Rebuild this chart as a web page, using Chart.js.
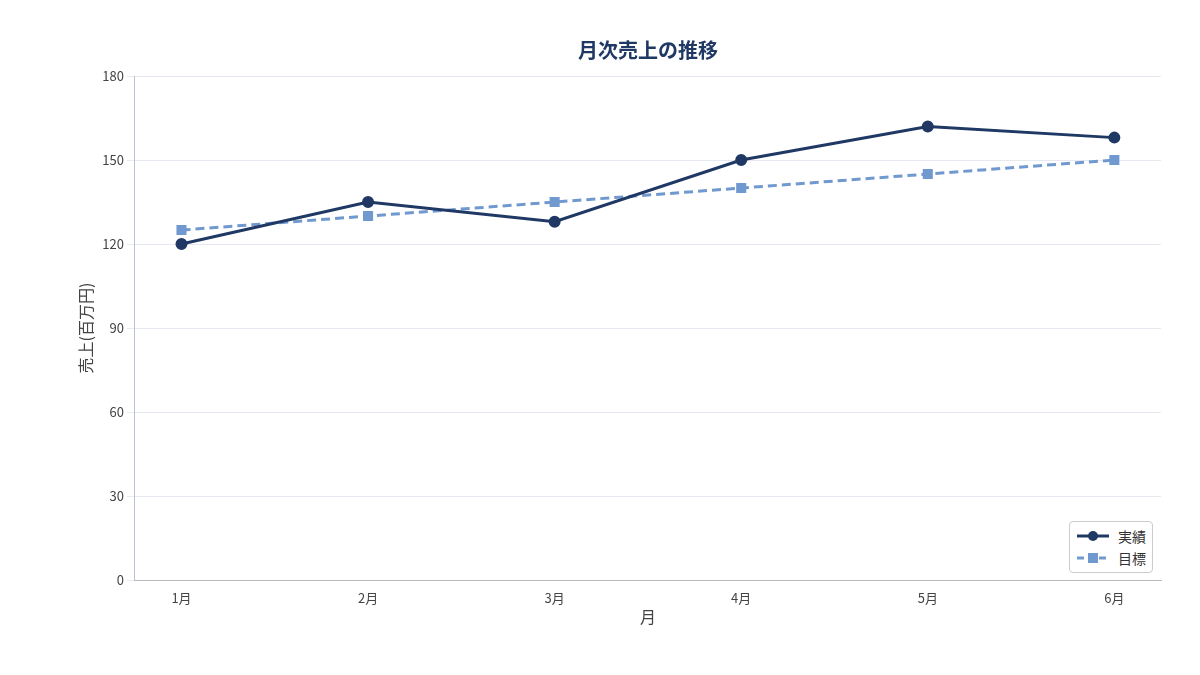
<!DOCTYPE html>
<html>
<head>
<meta charset="utf-8">
<script src="https://cdn.jsdelivr.net/npm/chart.js@4/dist/chart.umd.min.js"></script>
<style>
  body { margin: 0; background: #fff; font-family: "Noto Sans CJK JP", sans-serif; }
  #wrap { position: relative; width: 1200px; height: 675px; }
  #legend {
    position: absolute; right: 47px; top: 521px;
    border: 1px solid #ccc; border-radius: 4px; background: #fff;
    padding: 3px 6px 3px 6px; font-size: 14px; color: #333; line-height: 22px;
  }
  #legend div { display: flex; align-items: center; gap: 8px; }
</style>
</head>
<body>
<div id="wrap">
  <canvas id="c" width="1200" height="675"></canvas>
  <div id="legend">
    <div><svg width="34" height="12"><line x1="1" y1="6" x2="33" y2="6" stroke="#1f3864" stroke-width="3"/><circle cx="17" cy="6" r="5" fill="#1f3864"/></svg>実績</div>
    <div><svg width="34" height="12"><line x1="1" y1="6" x2="33" y2="6" stroke="#7099cf" stroke-width="3" stroke-dasharray="7,4"/><rect x="12" y="1" width="10" height="10" fill="#7099cf"/></svg>目標</div>
  </div>
</div>
<script>
// 月次売上データ
const months = ["1月", "2月", "3月", "4月", "5月", "6月"]
const actual = [120, 135, 128, 150, 162, 158]
const target = [125, 130, 135, 140, 145, 150]

const navy = "#1f3864"
const blue = "#7099cf"
const font = "'Noto Sans CJK JP', sans-serif"

// タイトルはチャート領域の中央に描く
const titlePlugin = {
  id: "areaTitle",
  afterDraw(chart) {
    const { ctx, chartArea } = chart
    ctx.save()
    ctx.fillStyle = navy
    ctx.font = `bold 20px ${font}`
    ctx.textAlign = "center"
    ctx.textBaseline = "middle"
    ctx.fillText("月次売上の推移", (chartArea.left + chartArea.right) / 2, 50)
    ctx.restore()
  }
}

new Chart(document.getElementById("c"), {
  type: "line",
  data: {
    datasets: [
      {
        label: "実績",
        data: actual.map((v, i) => ({ x: i, y: v })),
        borderColor: navy, backgroundColor: navy,
        borderWidth: 3, pointStyle: "circle", pointRadius: 4.5
      },
      {
        label: "目標",
        data: target.map((v, i) => ({ x: i, y: v })),
        borderColor: blue, backgroundColor: blue,
        borderWidth: 3, borderDash: [9, 5], pointStyle: "rect", pointRadius: 5
      }
    ]
  },
  options: {
    responsive: false,
    animation: false,
    layout: { padding: { left: 72, right: 39, top: 76, bottom: 48 } },
    plugins: {
      legend: { display: false },
      tooltip: { enabled: false }
    },
    scales: {
      x: {
        type: "linear", min: -0.25, max: 5.25,
        afterBuildTicks: axis => { axis.ticks = months.map((m, i) => ({ value: i })) },
        ticks: { callback: v => months[v], color: "#444", padding: 2, font: { family: font, size: 13 } },
        grid: { display: false },
        border: { color: "#bbb" },
        title: { display: true, text: "月", color: "#444", font: { family: font, size: 16 }, padding: 0 }
      },
      y: {
        min: 0, max: 180,
        ticks: { stepSize: 30, color: "#444", font: { family: font, size: 13 } },
        grid: { color: "#e6e9f0" },
        border: { color: "#b8c4d6" },
        title: { display: true, text: "売上(百万円)", color: "#444", font: { family: font, size: 16 }, padding: 4 }
      }
    }
  },
  plugins: [titlePlugin]
})
</script>
</body>
</html>
